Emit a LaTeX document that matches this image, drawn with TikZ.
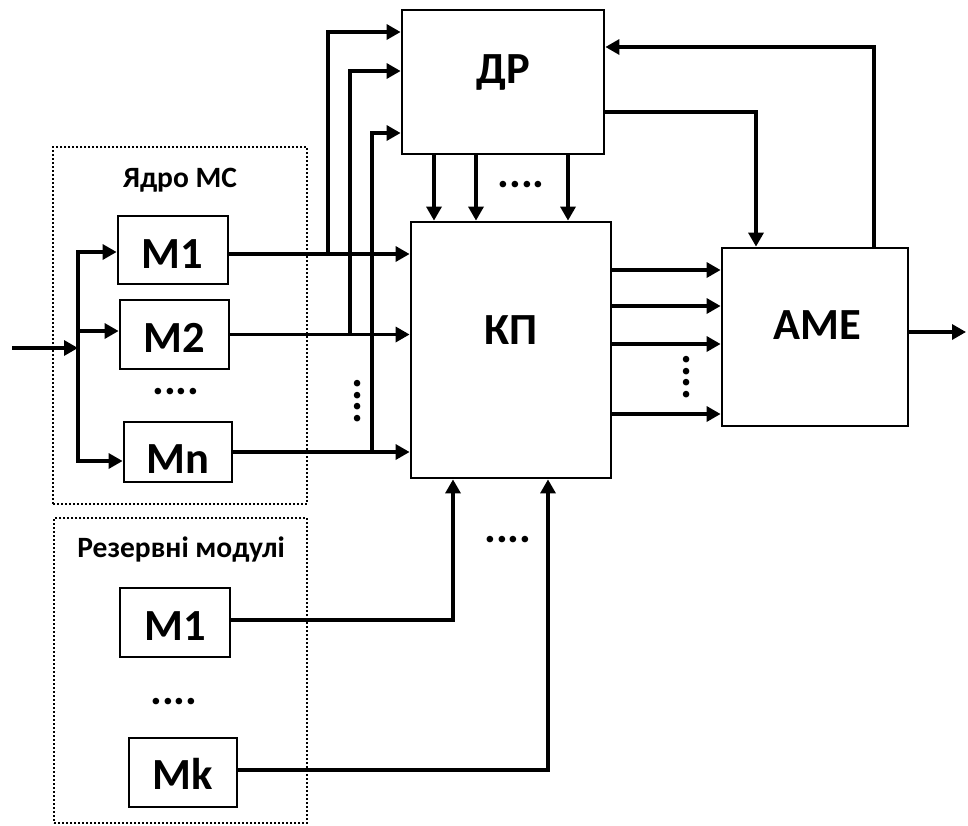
\documentclass[tikz,border=0pt]{standalone}
\usepackage{fontspec}
\setmainfont{Carlito}
\usetikzlibrary{arrows.meta}
\begin{document}
\begin{tikzpicture}[x=1pt,y=-1pt,
  blk/.style={draw,line width=2.8pt,inner sep=0pt},
  grp/.style={draw,line width=2pt,dash pattern=on 2pt off 2pt,inner sep=0pt},
  big/.style={font=\fontsize{44.5}{52}\selectfont\bfseries,inner sep=0pt,anchor=base},
  ttl/.style={font=\fontsize{29.5}{34}\selectfont\bfseries,inner sep=0pt,anchor=base},
  arr/.style={line width=3.3pt,-{Triangle[length=14pt,width=15pt]}},
  dots/.style={font=\fontsize{44}{50}\selectfont\bfseries,inner sep=0pt,anchor=base}
]
\useasboundingbox (0,0) rectangle (968,825);
% groups
\node[grp,minimum width=254pt,minimum height=357pt] (core) at (180,325.5) {};
\node[grp,minimum width=253pt,minimum height=305pt] (res) at (180.5,670.5) {};
\node[ttl] (coreT) at (180,187) {Ядро МС};
\node[ttl] (resT) at (181,557) {Резервні модулі};
% modules
\node[blk,minimum width=110pt,minimum height=68pt] (m1) at (173,250) {};
\node[big] (m1T) at (172,268) {M1};
\node[blk,minimum width=109pt,minimum height=69pt] (m2) at (174.5,334.5) {};
\node[big] (m2T) at (174,352) {M2};
\node[blk,minimum width=108pt,minimum height=60pt] (mn) at (178,452) {};
\node[big] (mnT) at (178,473) {Mn};
\node[blk,minimum width=110pt,minimum height=69pt] (r1) at (175,622.5) {};
\node[big] (r1T) at (175,640) {M1};
\node[blk,minimum width=108pt,minimum height=69pt] (rk) at (183,772.5) {};
\node[big] (rkT) at (183,789) {Mk};
% main blocks
\node[blk,minimum width=202pt,minimum height=144pt] (dr) at (503,82) {};
\node[big] (drT) at (503,83) {ДР};
\node[blk,minimum width=200pt,minimum height=256pt] (kp) at (511,350) {};
\node[big] (kpT) at (511,344) {КП};
\node[blk,minimum width=186pt,minimum height=178pt] (ame) at (815,337) {};
\node[big] (ameT) at (817,339) {AME};
% dots
\node[dots] (d1) at (521,187) {....};
\node[dots] (d2) at (176,394) {....};
\node[dots] (d3) at (508,542) {....};
\node[dots] (d4) at (174,704) {....};
\node[dots,rotate=90] (d5) at (360,401) {....};
\node[dots,rotate=90] (d6) at (689,377) {....};
% coordinates
\coordinate (in) at (12,348);
\coordinate (bj) at (78,348);
\coordinate (b1) at (78,252);
\coordinate (b2) at (78,331);
\coordinate (bn) at (78,461);
\coordinate (l1) at (0,254);
\coordinate (t1) at (328,254);
\coordinate (t2) at (350,334.5);
\coordinate (t3) at (372,450);
\coordinate (u1) at (0,32);
\coordinate (u2) at (0,71);
\coordinate (u3) at (0,133);
\coordinate (c1) at (434,0);
\coordinate (c2) at (476,0);
\coordinate (c3) at (568,0);
\coordinate (ra) at (756,112);
\coordinate (fb) at (874,47);
\coordinate (k1) at (0,270);
\coordinate (k2) at (0,306);
\coordinate (k3) at (0,344);
\coordinate (k4) at (0,414);
\coordinate (out) at (966,332);
\coordinate (q1) at (453,620);
\coordinate (qk) at (548,770);
% input fan-out
\draw[arr] (in) -- (bj);
\draw[arr] (b2) |- (b1 -| m1.west);
\draw[arr] (b2) -- (b2 -| m2.west);
\draw[arr] (b2) |- (bn -| mn.west);
% module outputs
\draw[arr] (m1.east |- l1) -- (kp.west |- l1);
\draw[arr] (m2.east) -- (m2.east -| kp.west);
\draw[arr] (mn.east) -- (mn.east -| kp.west);
% taps to DR
\draw[arr] (t1) |- (dr.west |- u1);
\draw[arr] (t2) |- (dr.west |- u2);
\draw[arr] (t3) |- (dr.west |- u3);
% DR to KP
\draw[arr] (dr.south -| c1) -- (kp.north -| c1);
\draw[arr] (dr.south -| c2) -- (kp.north -| c2);
\draw[arr] (dr.south -| c3) -- (kp.north -| c3);
% DR to AME, feedback
\draw[arr] (dr.east |- ra) -| (ame.north -| ra);
\draw[arr] (ame.north -| fb) |- (dr.east |- fb);
% KP to AME
\draw[arr] (kp.east |- k1) -- (ame.west |- k1);
\draw[arr] (kp.east |- k2) -- (ame.west |- k2);
\draw[arr] (kp.east |- k3) -- (ame.west |- k3);
\draw[arr] (kp.east |- k4) -- (ame.west |- k4);
% output
\draw[arr] (ame.east |- out) -- (out);
% reserve modules
\draw[arr] (r1.east |- q1) -| (kp.south -| q1);
\draw[arr] (rk.east |- qk) -| (kp.south -| qk);
\end{tikzpicture}
\end{document}
